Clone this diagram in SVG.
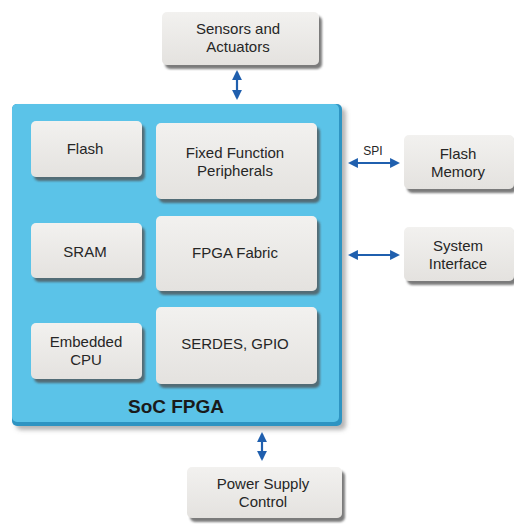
<svg xmlns="http://www.w3.org/2000/svg" width="514" height="525" viewBox="0 0 514 525">
<defs>
<style>
.box{fill:url(#g);filter:url(#sh);}
.t{font-family:"Liberation Sans",Arial,sans-serif;font-size:15px;fill:#262626;text-anchor:middle;}
.c{stroke:#1f5fae;stroke-width:2.2;fill:none;marker-start:url(#a);marker-end:url(#a);}
</style>
<linearGradient id="g" x1="0" y1="0" x2="0" y2="1">
<stop offset="0" stop-color="#f2f1ef"/>
<stop offset="1" stop-color="#e4e2df"/>
</linearGradient>
<filter id="sh" x="-10%" y="-10%" width="130%" height="140%">
<feDropShadow dx="3" dy="4" stdDeviation="1.2" flood-color="#505050" flood-opacity="0.75"/>
</filter>
<filter id="shb" x="-5%" y="-5%" width="115%" height="115%">
<feDropShadow dx="4" dy="4" stdDeviation="2" flood-color="#6a6a6a" flood-opacity="0.5"/>
</filter>
<marker id="a" viewBox="0 0 10 10" refX="8" refY="5" markerWidth="4.5" markerHeight="4.5" orient="auto-start-reverse" markerUnits="strokeWidth">
<path d="M0,0 L10,5 L0,10 z" fill="#1f5fae"/>
</marker>
</defs>
<rect width="514" height="525" fill="#ffffff"/>

<g id="soc">
<rect x="12" y="104" width="330" height="322" rx="5" fill="#2f94c2" filter="url(#shb)"/>
<rect x="12" y="104" width="327" height="318" rx="5" fill="#5bc3e8"/>
<text x="176" y="413" class="t" style="font-size:19px;font-weight:bold;fill:#1a1a1a">SoC FPGA</text>
</g>

<g id="flash">
<rect class="box" x="31" y="121" width="111" height="56" rx="5"/>
<text class="t" x="85" y="154">Flash</text>
</g>
<g id="ffp">
<rect class="box" x="156" y="123" width="161" height="76" rx="5"/>
<text class="t" x="235" y="158">Fixed Function</text>
<text class="t" x="235" y="176">Peripherals</text>
</g>
<g id="sram">
<rect class="box" x="31" y="223" width="111" height="55" rx="5"/>
<text class="t" x="85" y="257">SRAM</text>
</g>
<g id="fabric">
<rect class="box" x="156" y="216" width="161" height="75" rx="5"/>
<text class="t" x="235" y="258">FPGA Fabric</text>
</g>
<g id="cpu">
<rect class="box" x="31" y="323" width="111" height="56" rx="5"/>
<text class="t" x="86" y="347">Embedded</text>
<text class="t" x="86" y="365">CPU</text>
</g>
<g id="serdes">
<rect class="box" x="156" y="307" width="161" height="77" rx="5"/>
<text class="t" x="235" y="349">SERDES, GPIO</text>
</g>

<g id="sensors">
<rect class="box" x="162" y="12" width="157" height="53" rx="5"/>
<text class="t" x="238" y="34">Sensors and</text>
<text class="t" x="238" y="52">Actuators</text>
</g>
<g id="flashmem">
<rect class="box" x="404" y="135" width="110" height="54" rx="5"/>
<text class="t" x="458" y="159">Flash</text>
<text class="t" x="458" y="177">Memory</text>
</g>
<g id="sysif">
<rect class="box" x="404" y="227" width="110" height="54" rx="5"/>
<text class="t" x="458" y="251">System</text>
<text class="t" x="458" y="269">Interface</text>
</g>
<g id="power">
<rect class="box" x="187" y="467" width="155" height="51" rx="5"/>
<text class="t" x="263" y="489">Power Supply</text>
<text class="t" x="263" y="507">Control</text>
</g>

<g id="connectors">
<line class="c" x1="237" y1="72" x2="237" y2="98"/>
<line class="c" x1="262" y1="434" x2="262" y2="459"/>
<line class="c" x1="350" y1="163" x2="398" y2="163"/>
<line class="c" x1="350" y1="255" x2="398" y2="255"/>
<text class="t" x="373" y="155" style="font-size:12px">SPI</text>
</g>
</svg>
